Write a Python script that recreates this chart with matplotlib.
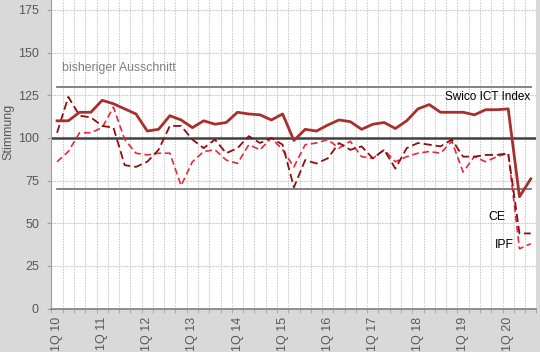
import matplotlib
matplotlib.use("Agg")
import matplotlib.pyplot as plt
import numpy as np

plt.rcParams['font.family'] = ['Liberation Sans', 'DejaVu Sans']

quarters = [f"{q}Q {y}" for y in range(10, 21) for q in range(1, 5)][:43]
tick_labels = [f"1Q {y}" for y in range(10, 21)]

ict = [110, 110, 115, 115, 122, 120, 117, 114, 104, 105,
       113, 110.5, 106, 110, 108, 109, 115, 114, 113.5, 110.5,
       114, 98.5, 105, 104, 107.5, 110.5, 109.5, 105, 108, 109,
       105.5, 110, 117, 119.5, 115, 115, 115, 113.5, 116.5, 116.5,
       117, 65.5, 76]
ce = [103, 124, 113, 112, 107, 106, 84, 83, 86, 93,
      107, 107, 99, 94, 99, 91, 94, 101, 97, 100,
      96, 71, 87, 85, 88, 97, 93, 95, 88, 93,
      82, 94, 97, 96, 95, 99, 89, 89, 90, 90,
      91, 44, 44]
ipf = [86, 92, 103, 103, 106, 118, 99, 91, 90, 91,
       91, 72, 86, 92, 93, 87, 85, 96, 93, 100,
       93, 83, 96, 97, 99, 94, 98, 89, 88, 93,
       86, 89, 91, 92, 91, 98, 80, 89, 86, 89,
       91, 35, 38]
ref_lines = [70, 130]
mid_line = 100

fig = plt.figure(figsize=(5.40, 3.52), dpi=100, facecolor='#d9d9d9')
ax = fig.add_axes([51.4/540, 43.5/352, 485/540, 308.5/352])
ax.set_facecolor('white')

n = len(quarters)
x = np.arange(n)
ax.set_xlim(-0.5, n - 0.5)
ax.set_ylim(0, 180.8)

# grid
for b in np.arange(-0.5, n, 1.0):
    ax.axvline(b, color='#cccccc', lw=0.8, ls=(0, (1.5, 1)), zorder=1)
for yv in [25, 50, 75, 125, 150, 175]:
    ax.axhline(yv, color='#c8c8c8', lw=0.8, ls=(0, (1.5, 1)), zorder=1)

# reference lines
for r in ref_lines:
    ax.plot([0, n - 1], [r, r], color='#7a7a7a', lw=1.3, zorder=2)
ax.axhline(mid_line, color='#404040', lw=1.8, zorder=2)

ax.plot(x, ipf, color='#e8283c', lw=1.2, ls=(0, (4, 2.2)), zorder=3)
ax.plot(x, ce, color='#8b1010', lw=1.3, ls=(0, (4.5, 2.2)), zorder=4)
ax.plot(x, ict, color='#a8302c', lw=2.0, zorder=5)

ax.text(0.44, 141, 'bisheriger Ausschnitt', color='#7f7f7f', fontsize=8.8, va='center', ha='left')
ax.text(34.4, 124, 'Swico ICT Index', color='black', fontsize=8.5, va='center', ha='left')
ax.text(38.2, 53.6, 'CE', color='black', fontsize=8.8, va='center', ha='left')
ax.text(38.86, 37.2, 'IPF', color='black', fontsize=8.8, va='center', ha='left')

ax.set_yticks([0, 25, 50, 75, 100, 125, 150, 175])
ax.tick_params(axis='y', colors='#a0a0a0', labelcolor='#595959', labelsize=9, length=3, pad=6)
ax.set_xticks(np.arange(0, n, 4))
ax.set_xticklabels(tick_labels, rotation=90, color='#595959', fontsize=9)
ax.set_xticks(np.arange(-0.5, n, 1.0), minor=True)
ax.tick_params(axis='x', which='major', length=0, pad=6)
ax.tick_params(axis='x', which='minor', length=3, color='#a0a0a0')

for s in ['top', 'right']:
    ax.spines[s].set_visible(False)
ax.spines['left'].set_color('#a0a0a0')
ax.spines['bottom'].set_color('#808080')
ax.spines['bottom'].set_linewidth(1.2)

fig.text(8/540, (352 - 132)/352, 'Stimmung', rotation=90, color='#595959', fontsize=9, va='center', ha='center')

fig.savefig('out.png', dpi=100, facecolor=fig.get_facecolor())
